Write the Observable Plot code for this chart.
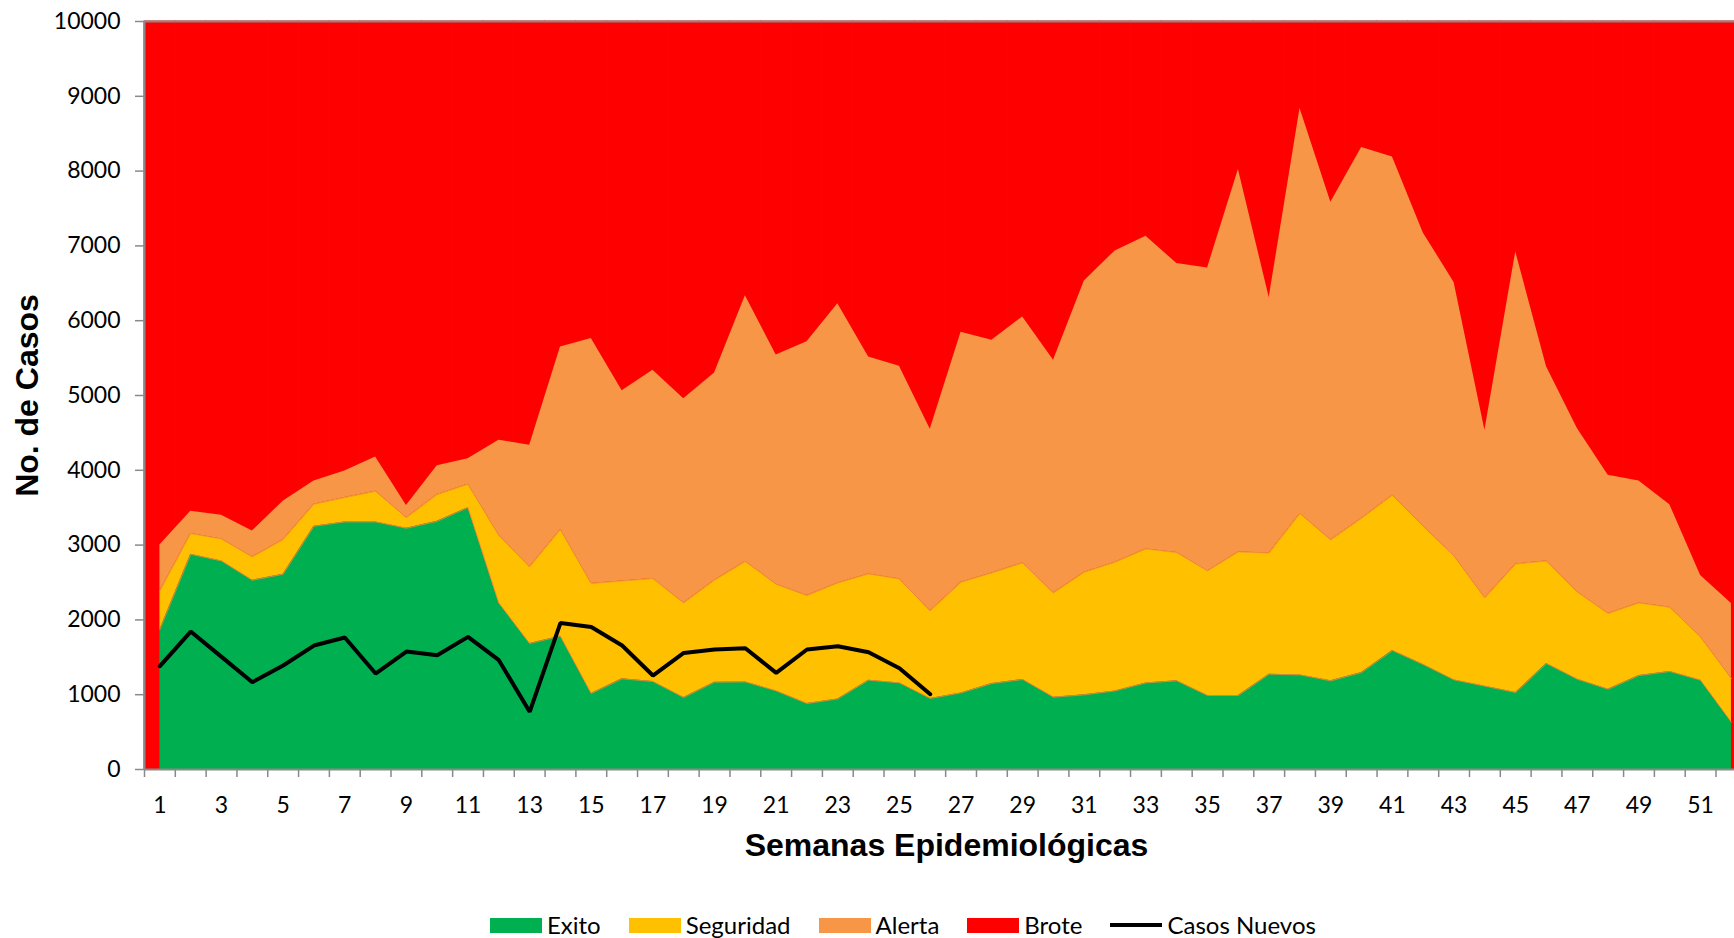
<!DOCTYPE html>
<html>
<head>
<meta charset="utf-8">
<script src="https://cdn.jsdelivr.net/npm/d3@7"></script>
<script src="https://cdn.jsdelivr.net/npm/@observablehq/plot@0.6"></script>
<style>
  html, body { margin: 0; padding: 0; background: #fff; overflow: hidden; width: 1734px; height: 938px; }
  #chart { position: absolute; left: 0; top: 0; width: 1734px; }
  #legend { position: absolute; left: 490px; top: 913px; display: flex; align-items: center;
            font-family: Lato, sans-serif; font-size: 24px; line-height: 24px; color: #000; white-space: nowrap; }
  .item { display: flex; align-items: center; margin-right: 28px; }
  .sw { width: 52px; height: 15px; margin-right: 5px; }
  .ln { width: 52px; height: 4px; background: #000; margin-right: 5px; }
</style>
</head>
<body>
<div id="chart"></div>
<div id="legend"></div>
<script>
const weeks = [1,2,3,4,5,6,7,8,9,10,11,12,13,14,15,16,17,18,19,20,21,22,23,24,25,26,
  27,28,29,30,31,32,33,34,35,36,37,38,39,40,41,42,43,44,45,46,47,48,49,50,51,52];
const exito = [1871,2877,2788,2530,2610,3252,3310,3310,3225,3318,3501,2227,1684,1782,1016,1212,1176,962,1167,1171,
  1051,882,944,1194,1158,949,1024,1149,1203,967,998,1051,1158,1185,989,989,1274,1265,1185,1296,
  1590,1403,1198,1114,1029,1416,1207,1073,1256,1310,1194,633];
const seguridad = [517,277,294,312,463,294,325,409,142,357,312,904,1024,1425,1470,1309,1376,1265,1363,1609,
  1426,1443,1550,1421,1390,1171,1479,1479,1559,1394,1639,1720,1791,1715,1666,1920,1621,2156,1884,2063,
  2076,1849,1657,1180,1719,1372,1167,1012,971,859,579,583];
const alerta = [614,298,317,347,513,311,356,459,161,387,343,1271,1627,2443,3276,2541,2786,2728,2772,3552,
  3066,3392,3731,2901,2844,2430,3343,3111,3289,3111,3895,4162,4181,3865,4051,5112,3415,5416,4515,4957,
  4524,3922,3656,2242,4172,2595,2185,1850,1630,1372,820,1002];
const brote = [10000,10000,10000,10000,10000,10000,10000,10000,10000,10000,10000,10000,10000,
  10000,10000,10000,10000,10000,10000,10000,10000,10000,10000,10000,10000,10000,
  10000,10000,10000,10000,10000,10000,10000,10000,10000,10000,10000,10000,10000,
  10000,10000,10000,10000,10000,10000,10000,10000,10000,10000,10000,10000,10000];
const casosNuevos = [1381,1844,1506,1167,1390,1657,1764,1283,1577,1528,1773,1461,771,1960,1906,1657,1256,
  1559,1604,1621,1292,1604,1648,1568,1354,1007];
const xTickLabels = [1,3,5,7,9,11,13,15,17,19,21,23,25,27,29,31,33,35,37,39,41,43,45,47,49,51];
const yTicks = [0,1000,2000,3000,4000,5000,6000,7000,8000,9000,10000];
const seriesNames = ["Exito","Seguridad","Alerta","Brote"];
const seriesColors = ["#00B050","#FFC000","#F79646","#FF0000"];
const lineName = "Casos Nuevos";
const yTitle = "No. de Casos";
const xTitle = "Semanas Epidemiológicas";

const rows = weeks.flatMap((w, i) => [
  {week: w, serie: "Exito", value: exito[i]},
  {week: w, serie: "Seguridad", value: seguridad[i]},
  {week: w, serie: "Alerta", value: alerta[i]}
]);
const boundaryRows = rows.filter(d => d.serie !== "Alerta");
const broteRows = weeks.map((w, i) => ({week: w, serie: "Brote", value: brote[i]}));
const casosRows = casosNuevos.map((v, i) => ({week: weeks[i], value: v}));
const stackOrder = ["Exito","Seguridad","Alerta"];

const plot = Plot.plot({
  width: 1734,
  height: 870,
  marginLeft: 144,
  marginRight: 0,
  marginTop: 21,
  marginBottom: 101,
  style: {fontFamily: "Lato, sans-serif", fontSize: "23px", background: "transparent", overflow: "hidden"},
  x: {type: "linear", domain: [0.5, 52.1]},
  y: {domain: [0, 10000]},
  color: {domain: seriesNames, range: seriesColors},
  marks: [
    Plot.rectY(broteRows, {x1: d => d.week - 0.5, x2: d => d.week + 0.5, y: "value", fill: "serie", stroke: "serie", strokeWidth: 1}),
    Plot.areaY(rows, {x: "week", y: "value", z: "serie", fill: "serie", order: stackOrder, curve: "linear"}),
    Plot.lineY(boundaryRows, Plot.stackY2({x: "week", y: "value", z: "serie", order: stackOrder, stroke: "#EE8A40", strokeWidth: 0.8})),
    Plot.lineY(casosRows, {x: "week", y: "value", stroke: "#000", strokeWidth: 4, strokeLinejoin: "miter"}),
    Plot.ruleY([0], {stroke: "#898989", strokeWidth: 2}),
    Plot.ruleY([10000], {stroke: "#898989", strokeWidth: 2}),
    Plot.ruleX([0.5], {stroke: "#898989", strokeWidth: 2}),
    Plot.axisY({ticks: yTicks, tickSize: 9, tickPadding: 15, tickFormat: d => String(d), stroke: "#898989", fill: "#000", strokeWidth: 1.5, label: null}),
    Plot.axisX({ticks: weeks.map(w => w - 0.5), tickSize: 8, tickFormat: () => "", stroke: "#898989", strokeWidth: 1.5, label: null}),
    Plot.axisX({ticks: xTickLabels, tickSize: 0, tickPadding: 27, tickFormat: d => String(d), fill: "#000", label: null}),
    Plot.text([yTitle], {text: d => d, frameAnchor: "left", dx: -117, rotate: -90, textAnchor: "middle", lineAnchor: "middle",
      fontSize: 32, fontWeight: "bold", fontFamily: "'Liberation Sans', Arial, sans-serif", fill: "#000"}),
    Plot.text([xTitle], {text: d => d, frameAnchor: "bottom", dx: 7, dy: 76, textAnchor: "middle", lineAnchor: "middle",
      fontSize: 32, fontWeight: "bold", fontFamily: "'Liberation Sans', Arial, sans-serif", fill: "#000"})
  ]
});
document.getElementById("chart").appendChild(plot);

const legend = document.getElementById("legend");
seriesNames.forEach((name, i) => {
  const item = document.createElement("div");
  item.className = "item";
  const sw = document.createElement("div");
  sw.className = "sw";
  sw.style.background = seriesColors[i];
  const t = document.createElement("span");
  t.textContent = name;
  item.appendChild(sw);
  item.appendChild(t);
  legend.appendChild(item);
});
const li = document.createElement("div");
li.className = "item";
const ln = document.createElement("div");
ln.className = "ln";
const lt = document.createElement("span");
lt.textContent = lineName;
li.appendChild(ln);
li.appendChild(lt);
legend.appendChild(li);
</script>
</body>
</html>
